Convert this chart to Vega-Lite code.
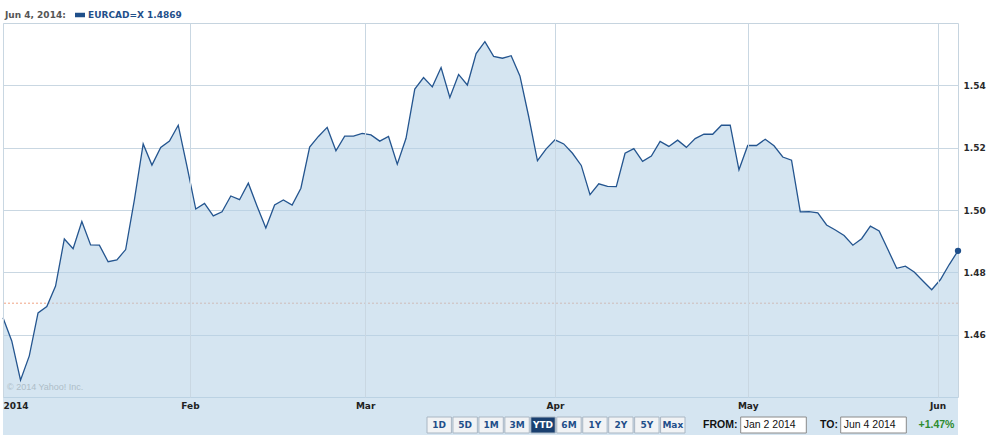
{
  "$schema": "https://vega.github.io/schema/vega-lite/v6.json",
  "width": 955,
  "height": 374,
  "autosize": {"type": "none"},
  "padding": {"left": 3, "top": 23, "right": 32, "bottom": 38},
  "background": "white",
  "datasets": {
    "eurcad": [
      {"date": "2014-01-02", "close": 1.4654}, {"date": "2014-01-03", "close": 1.4580}, {"date": "2014-01-06", "close": 1.4454}, {"date": "2014-01-07", "close": 1.4532}, {"date": "2014-01-08", "close": 1.4670}, {"date": "2014-01-09", "close": 1.4690}, {"date": "2014-01-10", "close": 1.4756}, {"date": "2014-01-13", "close": 1.4907}, {"date": "2014-01-14", "close": 1.4876}, {"date": "2014-01-15", "close": 1.4963}, {"date": "2014-01-16", "close": 1.4888}, {"date": "2014-01-17", "close": 1.4887}, {"date": "2014-01-20", "close": 1.4834}, {"date": "2014-01-21", "close": 1.4840}, {"date": "2014-01-22", "close": 1.4873}, {"date": "2014-01-23", "close": 1.5033}, {"date": "2014-01-24", "close": 1.5212}, {"date": "2014-01-27", "close": 1.5144}, {"date": "2014-01-28", "close": 1.5201}, {"date": "2014-01-29", "close": 1.5221}, {"date": "2014-01-30", "close": 1.5272}, {"date": "2014-01-31", "close": 1.5140},
      {"date": "2014-02-03", "close": 1.5003}, {"date": "2014-02-04", "close": 1.5021}, {"date": "2014-02-05", "close": 1.4981}, {"date": "2014-02-06", "close": 1.4994}, {"date": "2014-02-07", "close": 1.5045}, {"date": "2014-02-10", "close": 1.5033}, {"date": "2014-02-11", "close": 1.5086}, {"date": "2014-02-12", "close": 1.5012}, {"date": "2014-02-13", "close": 1.4942}, {"date": "2014-02-14", "close": 1.5016}, {"date": "2014-02-17", "close": 1.5032}, {"date": "2014-02-18", "close": 1.5016}, {"date": "2014-02-19", "close": 1.5070}, {"date": "2014-02-20", "close": 1.5202}, {"date": "2014-02-21", "close": 1.5236}, {"date": "2014-02-24", "close": 1.5265}, {"date": "2014-02-25", "close": 1.5190}, {"date": "2014-02-26", "close": 1.5237}, {"date": "2014-02-27", "close": 1.5237}, {"date": "2014-02-28", "close": 1.5246},
      {"date": "2014-03-03", "close": 1.5241}, {"date": "2014-03-04", "close": 1.5221}, {"date": "2014-03-05", "close": 1.5236}, {"date": "2014-03-06", "close": 1.5147}, {"date": "2014-03-07", "close": 1.5230}, {"date": "2014-03-10", "close": 1.5388}, {"date": "2014-03-11", "close": 1.5425}, {"date": "2014-03-12", "close": 1.5395}, {"date": "2014-03-13", "close": 1.5457}, {"date": "2014-03-14", "close": 1.5361}, {"date": "2014-03-17", "close": 1.5435}, {"date": "2014-03-18", "close": 1.5401}, {"date": "2014-03-19", "close": 1.5502}, {"date": "2014-03-20", "close": 1.5540}, {"date": "2014-03-21", "close": 1.5493}, {"date": "2014-03-24", "close": 1.5487}, {"date": "2014-03-25", "close": 1.5495}, {"date": "2014-03-26", "close": 1.5430}, {"date": "2014-03-27", "close": 1.5300}, {"date": "2014-03-28", "close": 1.5158}, {"date": "2014-03-31", "close": 1.5196},
      {"date": "2014-04-01", "close": 1.5225}, {"date": "2014-04-02", "close": 1.5212}, {"date": "2014-04-03", "close": 1.5182}, {"date": "2014-04-04", "close": 1.5143}, {"date": "2014-04-07", "close": 1.5049}, {"date": "2014-04-08", "close": 1.5084}, {"date": "2014-04-09", "close": 1.5076}, {"date": "2014-04-10", "close": 1.5075}, {"date": "2014-04-11", "close": 1.5182}, {"date": "2014-04-14", "close": 1.5197}, {"date": "2014-04-15", "close": 1.5156}, {"date": "2014-04-16", "close": 1.5173}, {"date": "2014-04-17", "close": 1.5220}, {"date": "2014-04-18", "close": 1.5204}, {"date": "2014-04-21", "close": 1.5224}, {"date": "2014-04-22", "close": 1.5201}, {"date": "2014-04-23", "close": 1.5229}, {"date": "2014-04-24", "close": 1.5243}, {"date": "2014-04-25", "close": 1.5243}, {"date": "2014-04-28", "close": 1.5272}, {"date": "2014-04-29", "close": 1.5272}, {"date": "2014-04-30", "close": 1.5129},
      {"date": "2014-05-01", "close": 1.5207}, {"date": "2014-05-02", "close": 1.5207}, {"date": "2014-05-05", "close": 1.5227}, {"date": "2014-05-06", "close": 1.5206}, {"date": "2014-05-07", "close": 1.5170}, {"date": "2014-05-08", "close": 1.5160}, {"date": "2014-05-09", "close": 1.4994}, {"date": "2014-05-12", "close": 1.4995}, {"date": "2014-05-13", "close": 1.4991}, {"date": "2014-05-14", "close": 1.4952}, {"date": "2014-05-15", "close": 1.4936}, {"date": "2014-05-16", "close": 1.4918}, {"date": "2014-05-19", "close": 1.4887}, {"date": "2014-05-20", "close": 1.4908}, {"date": "2014-05-21", "close": 1.4948}, {"date": "2014-05-22", "close": 1.4933}, {"date": "2014-05-23", "close": 1.4873}, {"date": "2014-05-26", "close": 1.4813}, {"date": "2014-05-27", "close": 1.4820}, {"date": "2014-05-28", "close": 1.4801}, {"date": "2014-05-29", "close": 1.4772}, {"date": "2014-05-30", "close": 1.4744},
      {"date": "2014-06-02", "close": 1.4777}, {"date": "2014-06-03", "close": 1.4825}, {"date": "2014-06-04", "close": 1.4869}
    ],
    "prev": [{"label": "previous close", "close": 1.4701}],
    "credit": [{"text": "© 2014 Yahoo! Inc."}],
    "buttons": [
      {"range": "1D", "row": "controls", "active": false}, {"range": "5D", "row": "controls", "active": false}, {"range": "1M", "row": "controls", "active": false}, {"range": "3M", "row": "controls", "active": false}, {"range": "YTD", "row": "controls", "active": true}, {"range": "6M", "row": "controls", "active": false}, {"range": "1Y", "row": "controls", "active": false}, {"range": "2Y", "row": "controls", "active": false}, {"range": "5Y", "row": "controls", "active": false}, {"range": "Max", "row": "controls", "active": false}
    ],
    "fieldlabels": [{"lab": "FROM:", "row": "controls"}, {"lab": "TO:", "row": "controls"}],
    "fieldboxes": [{"box": "Jan 2 2014", "row": "controls"}, {"box": "Jun 4 2014", "row": "controls"}],
    "change": [{"pct": "+1.47%", "row": "controls"}]
  },
  "config": {
    "view": {"stroke": "#c6d4df", "strokeWidth": 1},
    "axis": {"gridColor": "#c9d7e2", "gridWidth": 1, "ticks": false, "domain": false, "labelFont": "DejaVu Sans", "labelFontSize": 9, "labelFontWeight": "bold", "labelColor": "#2a2a2a", "labelOpacity": 1},
    "axisX": {"labelPadding": 4},
    "axisY": {"labelPadding": 5}
  },
  "layer": [
    {
      "layer": [
        {
          "data": {"name": "prev"},
          "mark": {"type": "rule", "color": "#f0a283", "strokeDash": [2, 2], "strokeWidth": 1},
          "encoding": {"y": {"field": "close", "type": "quantitative", "scale": {"domain": [1.44, 1.56], "nice": false, "zero": false}, "title": null}}
        },
        {
          "data": {"name": "eurcad"},
          "transform": [{"window": [{"op": "row_number", "as": "day"}], "sort": [{"field": "date", "order": "ascending"}]}],
          "encoding": {
            "x": {"field": "day", "type": "quantitative", "title": null, "scale": {"domain": [1, 110], "nice": false, "zero": false},
              "axis": {"orient": "bottom", "values": [1, 22.3333, 42.3333, 64, 86, 107.6667], "labelFlush": true, "grid": true, "zindex": 1, "labelColor": "#222222", "labelFontWeight": "bold",
                "labelExpr": "datum.value < 2 ? '2014' : datum.value < 30 ? 'Feb' : datum.value < 50 ? 'Mar' : datum.value < 70 ? 'Apr' : datum.value < 95 ? 'May' : 'Jun'"}},
            "y": {"field": "close", "type": "quantitative", "title": null, "scale": {"domain": [1.44, 1.56], "nice": false, "zero": false},
              "axis": {"orient": "right", "values": [1.46, 1.48, 1.5, 1.52, 1.54], "format": ".2f", "grid": true}}
          },
          "layer": [
            {"mark": {"type": "area", "fill": "#b3d0e6", "opacity": 0.55}},
            {"mark": {"type": "line", "color": "#24558f", "strokeWidth": 1.3}},
            {
              "transform": [{"filter": "datum.day == 110"}],
              "mark": {"type": "point", "filled": true, "opacity": 1, "size": 40},
              "encoding": {
                "color": {"datum": "EURCAD=X 1.4869", "scale": {"range": ["#1f4f8a"]},
                  "legend": {"orient": "none", "legendX": 2, "legendY": -13, "title": "Jun 4, 2014:", "titleOrient": "left", "titleFont": "DejaVu Sans", "titleFontSize": 9, "titleFontWeight": "bold", "titleColor": "#555555", "titlePadding": 9, "titleBaseline": "middle",
                    "labelFont": "DejaVu Sans", "labelFontSize": 9, "labelFontWeight": "bold", "labelColor": "#1f4f8a", "labelOffset": 3,
                    "symbolType": "M-1,-0.45H1V0.45H-1Z", "symbolSize": 100, "symbolStrokeWidth": 0}}
              }
            }
          ]
        },
        {
          "data": {"name": "credit"},
          "mark": {"type": "text", "align": "left", "baseline": "bottom", "font": "Liberation Sans", "fontSize": 9, "color": "#aebdc8", "dx": 4, "dy": -5},
          "encoding": {
            "text": {"field": "text"},
            "x": {"datum": 1, "type": "quantitative"},
            "y": {"datum": 1.44, "type": "quantitative"}
          }
        }
      ]
    },
    {
      "data": {"name": "buttons"},
      "encoding": {
        "x": {"field": "range", "type": "nominal", "sort": null, "axis": null, "scale": {"type": "band", "range": [424, 682], "paddingInner": 0.06, "paddingOuter": 0}},
        "y": {"field": "row", "type": "nominal", "axis": null, "scale": {"type": "band", "range": [394, 410], "paddingInner": 0, "paddingOuter": 0}}
      },
      "layer": [
        {"mark": {"type": "rect", "stroke": "#a9b6c3", "strokeWidth": 1},
          "encoding": {"fill": {"condition": {"test": "datum.active", "value": "#1a4070"}, "value": "#f1f3f5"}}},
        {"mark": {"type": "text", "font": "DejaVu Sans", "fontWeight": "bold", "fontSize": 9},
          "encoding": {"text": {"field": "range"}, "color": {"condition": {"test": "datum.active", "value": "#ffffff"}, "value": "#1f4f8a"}}}
      ]
    },
    {
      "data": {"name": "fieldlabels"},
      "mark": {"type": "text", "align": "right", "font": "Liberation Sans", "fontWeight": "bold", "fontSize": 10.5, "color": "#111111"},
      "encoding": {
        "text": {"field": "lab"},
        "x": {"field": "lab", "type": "nominal", "sort": null, "axis": null, "scale": {"type": "point", "range": [734.5, 835], "padding": 0}},
        "y": {"field": "row", "type": "nominal", "axis": null, "scale": {"type": "band", "range": [394, 410], "paddingInner": 0, "paddingOuter": 0}}
      }
    },
    {
      "data": {"name": "fieldboxes"},
      "encoding": {
        "x": {"field": "box", "type": "nominal", "sort": null, "axis": null, "scale": {"type": "band", "range": [737.7, 903.3], "paddingInner": 0.344, "paddingOuter": 0}},
        "y": {"field": "row", "type": "nominal", "axis": null, "scale": {"type": "band", "range": [394, 410], "paddingInner": 0, "paddingOuter": 0}}
      },
      "layer": [
        {"mark": {"type": "rect", "fill": "#ffffff", "stroke": "#8a8a8a", "strokeWidth": 1}},
        {"mark": {"type": "text", "align": "left", "dx": 3, "font": "Liberation Sans", "fontSize": 10.5, "color": "#111111"},
          "encoding": {"text": {"field": "box"}, "x": {"field": "box", "type": "nominal", "sort": null, "bandPosition": 0}}}
      ]
    },
    {
      "data": {"name": "change"},
      "mark": {"type": "text", "align": "center", "font": "Liberation Sans", "fontWeight": "bold", "fontSize": 10.5, "color": "#2e8b2e"},
      "encoding": {
        "text": {"field": "pct"},
        "x": {"field": "pct", "type": "nominal", "axis": null, "scale": {"type": "point", "range": [916, 951], "padding": 0}},
        "y": {"field": "row", "type": "nominal", "axis": null, "scale": {"type": "band", "range": [394, 410], "paddingInner": 0, "paddingOuter": 0}}
      }
    }
  ],
  "resolve": {"scale": {"x": "independent", "y": "independent"}}
}
